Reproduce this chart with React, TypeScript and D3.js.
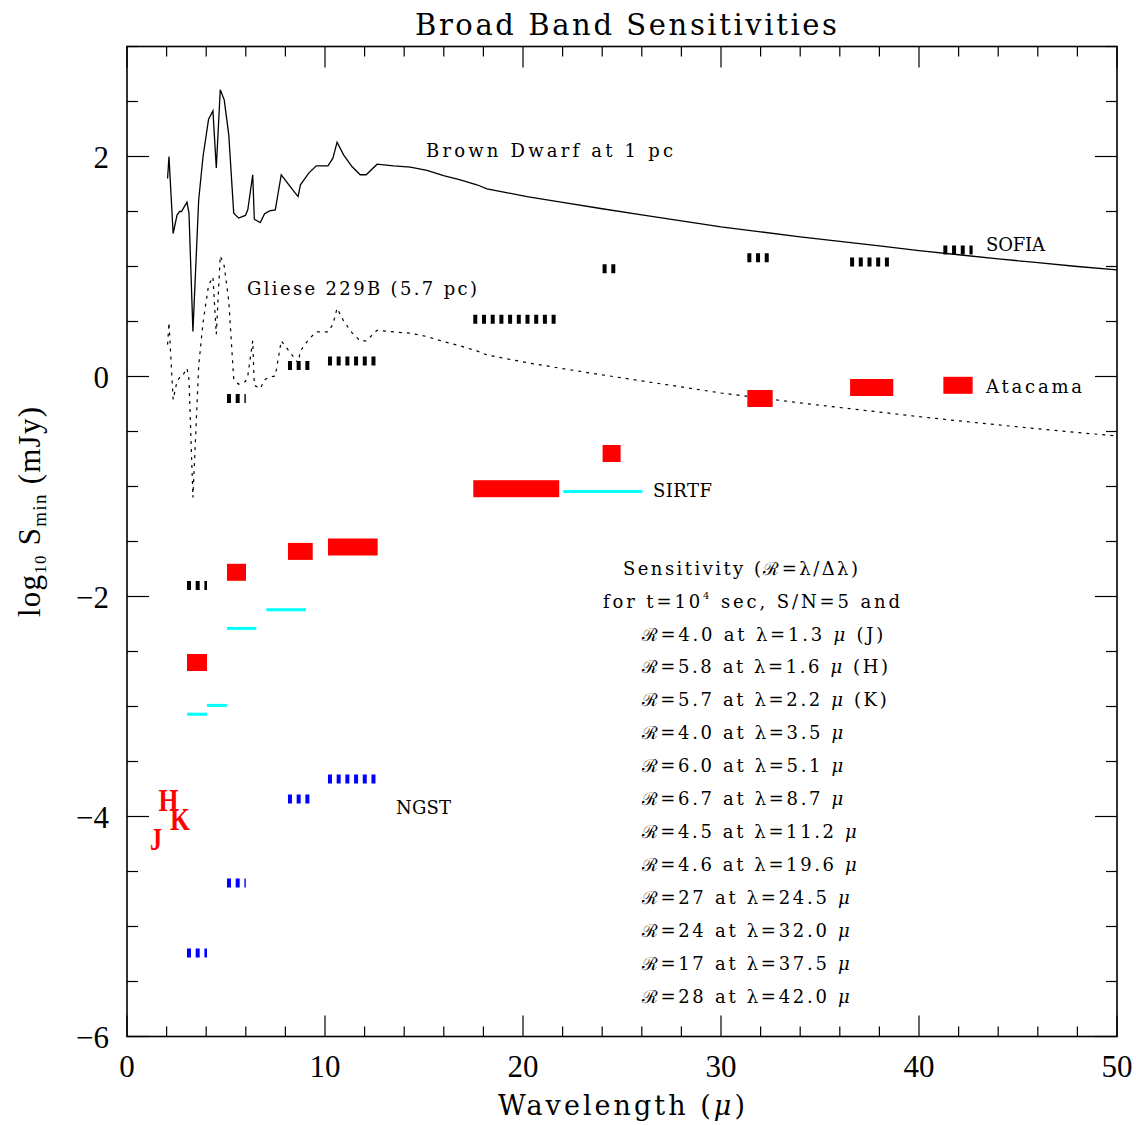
import React from 'react';
import * as d3 from 'd3';

const titleText = 'Broad Band Sensitivities';

// Brown dwarf at 1 pc: [wavelength (micron), log10 flux (mJy)]
const brownDwarf: [number, number][] = [
  [2.05, 1.8], [2.12, 2.0], [2.33, 1.3], [2.53, 1.47], [2.66, 1.5], [2.75, 1.5], [3.03, 1.585],
  [3.13, 1.485], [3.33, 0.41], [3.62, 1.605], [3.84, 2.0], [4.12, 2.34], [4.34, 2.415], [4.51, 1.895],
  [4.71, 2.606], [4.91, 2.515], [5.14, 2.197], [5.39, 1.485], [5.64, 1.44], [5.98, 1.464], [6.1, 1.515],
  [6.35, 1.834], [6.43, 1.43], [6.73, 1.4], [6.95, 1.48], [7.2, 1.506], [7.49, 1.515], [7.79, 1.834],
  [8.37, 1.697], [8.64, 1.636], [8.76, 1.743], [9.18, 1.849], [9.56, 1.915], [9.85, 1.915], [10.15, 1.915],
  [10.4, 1.985], [10.61, 2.13], [10.94, 2.015], [11.36, 1.909], [11.78, 1.834], [12.08, 1.834], [12.63, 1.93],
  [13.47, 1.915], [14.31, 1.904], [15.15, 1.873], [15.99, 1.827], [16.83, 1.788], [17.67, 1.743], [18.18, 1.706],
  [19.03, 1.676], [20.2, 1.636], [22, 1.582], [24, 1.525], [26, 1.47], [28, 1.415], [30, 1.36], [32, 1.315],
  [34, 1.27], [36, 1.228], [38, 1.187], [40, 1.145], [42, 1.107], [44, 1.07], [46, 1.035], [48, 1.0], [50, 0.97],
];

// Gliese 229B (5.7 pc)
const gliese229B: [number, number][] = [
  [2.05, 0.29], [2.12, 0.49], [2.33, -0.21], [2.53, -0.04], [2.66, -0.01], [2.75, -0.01], [3.03, 0.075],
  [3.13, -0.025], [3.33, -1.1], [3.62, 0.095], [3.84, 0.49], [4.12, 0.83], [4.34, 0.905], [4.51, 0.385],
  [4.71, 1.096], [4.91, 1.005], [5.14, 0.687], [5.39, -0.025], [5.64, -0.07], [5.98, -0.046], [6.1, 0.005],
  [6.35, 0.324], [6.43, -0.08], [6.73, -0.11], [6.95, -0.03], [7.2, -0.004], [7.49, 0.005], [7.79, 0.324],
  [8.37, 0.187], [8.64, 0.126], [8.76, 0.233], [9.18, 0.339], [9.56, 0.405], [9.85, 0.405], [10.15, 0.405],
  [10.4, 0.475], [10.61, 0.62], [10.94, 0.505], [11.36, 0.399], [11.78, 0.324], [12.08, 0.324], [12.63, 0.42],
  [13.47, 0.405], [14.31, 0.394], [15.15, 0.363], [15.99, 0.317], [16.83, 0.278], [17.67, 0.233], [18.18, 0.196],
  [19.03, 0.166], [20.2, 0.126], [22, 0.072], [24, 0.015], [26, -0.04], [28, -0.095], [30, -0.15], [32, -0.195],
  [34, -0.24], [36, -0.282], [38, -0.323], [40, -0.365], [42, -0.403], [44, -0.44], [46, -0.475], [48, -0.51], [50, -0.54],
];

// Band sensitivities: [lambda low, lambda high, log10 Smin]
const sofiaBands: [number, number, number][] = [
  [3.03, 4.04, -1.9], [5.05, 6.0, -0.2], [8.13, 9.3, 0.1], [10.15, 12.66, 0.14], [17.49, 21.83, 0.52],
  [24.02, 24.7, 0.98], [31.33, 32.45, 1.08], [36.52, 38.65, 1.04], [41.23, 42.71, 1.15],
];
const atacamaBands: [number, number, number][] = [
  [3.03, 4.04, -2.6], [5.05, 6.01, -1.78], [8.13, 9.38, -1.59], [10.15, 12.66, -1.55], [17.49, 21.83, -1.02],
  [24.02, 24.93, -0.7], [31.33, 32.61, -0.2], [36.52, 38.7, -0.1], [41.23, 42.71, -0.08],
];
const sirtfBands: [number, number, number][] = [
  [3.03, 4.04, -3.07], [4.04, 5.05, -2.99], [5.05, 6.53, -2.29], [7.04, 9.04, -2.12], [22.04, 26.03, -1.045],
];
const ngstBands: [number, number, number][] = [
  [3.03, 4.04, -5.24], [5.05, 6.0, -4.605], [8.13, 9.3, -3.84], [10.15, 12.66, -3.66],
];

// near-IR band letters: [label, lambda, log10 S]
const nirLetters: [string, number, number][] = [
  ['H', 2.1, -3.95], ['K', 2.68, -4.12], ['J', 1.47, -4.3],
];

const xTickLabels = [0, 10, 20, 30, 40, 50];
const yTickLabels = [2, 0, -2, -4, -6];

const legendR = ['4.0', '5.8', '5.7', '4.0', '6.0', '6.7', '4.5', '4.6', '27', '24', '17', '28'];
const legendLambda = ['1.3', '1.6', '2.2', '3.5', '5.1', '8.7', '11.2', '19.6', '24.5', '32.0', '37.5', '42.0'];
const legendSuffix = ['(J)', '(H)', '(K)', '', '', '', '', '', '', '', '', ''];
const legendWidths = [241.6, 246.3, 245, 201.6, 201.6, 201.6, 215, 215, 208, 208, 208, 208];

const FONT = '"Liberation Serif", "DejaVu Serif", serif';
const LFONT = '"DejaVu Serif", "Liberation Serif", serif';

export default function App() {
  const W = 1136, H = 1125;
  const x = d3.scaleLinear().domain([0, 50]).range([127, 1117]);
  const y = d3.scaleLinear().domain([-6, 3]).range([1036.5, 46.5]);
  const line = d3.line<[number, number]>().x(d => x(d[0])).y(d => y(d[1]));

  const xTicks = d3.range(0, 50.001, 2);
  const yTicks = d3.range(-6, 3.001, 0.5);
  const [x0, x1] = x.range();
  const [y0, y1] = y.range();

  const dashedBar = (b: [number, number, number], color: string, i: number, key: string) => (
    <line key={key + i} x1={x(b[0])} x2={x(b[1])} y1={y(b[2])} y2={y(b[2])}
      stroke={color} strokeWidth={9} strokeDasharray="4,4.7" />
  );

  return (
    <svg width={W} height={H} style={{ position: 'absolute', left: 0, top: 0, background: '#fff' }}
      fontFamily={FONT}>
      <rect x={0} y={0} width={W} height={H} fill="#fff" />
      {/* title */}
      <text x={415} y={35} fontSize={29} fontFamily={LFONT} fontWeight={300} textLength={422} lengthAdjust="spacing">{titleText}</text>

      {/* frame */}
      <rect x={x0} y={y1} width={x1 - x0} height={y0 - y1} fill="none" stroke="#000" strokeWidth={1.6} />
      {xTicks.map(t => {
        const major = Math.abs(t % 10) < 1e-6;
        const len = major ? 21 : 10;
        return (
          <g key={'xt' + t} stroke="#000" strokeWidth={1.2}>
            <line x1={x(t)} x2={x(t)} y1={y0} y2={y0 - len} />
            <line x1={x(t)} x2={x(t)} y1={y1} y2={y1 + len} />
          </g>
        );
      })}
      {yTicks.map(t => {
        const major = Math.abs(t % 2) < 1e-6;
        const len = major ? 22 : 11;
        return (
          <g key={'yt' + t} stroke="#000" strokeWidth={1.2}>
            <line x1={x0} x2={x0 + len} y1={y(t)} y2={y(t)} />
            <line x1={x1} x2={x1 - len} y1={y(t)} y2={y(t)} />
          </g>
        );
      })}
      {xTickLabels.map(t => (
        <text key={'xl' + t} x={x(t)} y={1077} fontSize={31} textAnchor="middle">{t}</text>
      ))}
      {yTickLabels.map(t => (
        <text key={'yl' + t} x={109} y={y(t) + 11} fontSize={31} textAnchor="end">
          {t < 0 ? '\u2212' + Math.abs(t) : String(t)}
        </text>
      ))}

      {/* axis titles */}
      <text x={498} y={1115} fontSize={27} fontFamily={LFONT} textLength={247} lengthAdjust="spacing">
        Wavelength (<tspan fontStyle="italic">μ</tspan>)
      </text>
      <text transform="translate(40,617) rotate(-90)" x={0} y={0} fontSize={31} textLength={210} lengthAdjust="spacing">
        log<tspan fontSize={17} dy={6}>10</tspan><tspan dy={-6}> S</tspan><tspan fontSize={19} dy={6}>min</tspan><tspan dy={-6}> (mJy)</tspan>
      </text>

      {/* spectra */}
      <path d={line(brownDwarf) || ''} fill="none" stroke="#000" strokeWidth={1.3} />
      <path d={line(gliese229B) || ''} fill="none" stroke="#000" strokeWidth={1.2} strokeDasharray="3,5" />

      {/* bands */}
      {sofiaBands.map((b, i) => dashedBar(b, '#000', i, 'so'))}
      {ngstBands.map((b, i) => dashedBar(b, '#0000ff', i, 'ng'))}
      {sirtfBands.map((b, i) => (
        <line key={'si' + i} x1={x(b[0])} x2={x(b[1])} y1={y(b[2])} y2={y(b[2])} stroke="#00ffff" strokeWidth={3} />
      ))}
      {atacamaBands.map((b, i) => (
        <rect key={'at' + i} x={x(b[0])} y={y(b[2]) - 8.5} width={x(b[1]) - x(b[0])} height={17} fill="#ff0000" />
      ))}

      {/* labels */}
      <g fontFamily={LFONT} fontSize={18}>
        <text x={426} y={157} textLength={247} lengthAdjust="spacing">Brown Dwarf at 1 pc</text>
        <text x={247} y={295} textLength={230} lengthAdjust="spacing">Gliese 229B (5.7 pc)</text>
        <text x={986} y={251} textLength={59} lengthAdjust="spacing">SOFIA</text>
        <text x={986} y={393} textLength={96} lengthAdjust="spacing">Atacama</text>
        <text x={653} y={497} textLength={59} lengthAdjust="spacing">SIRTF</text>
        <text x={396} y={814} textLength={55} lengthAdjust="spacing">NGST</text>
      </g>

      {nirLetters.map(([s, l, v]) => (
        <text key={'nir' + s} x={x(l) - (s === 'J' ? 6 : 10)} y={y(v)} fontSize={31} fontWeight="bold" fill="#ff0000"
          textLength={s === 'J' ? 12 : 20} lengthAdjust="spacingAndGlyphs">{s}</text>
      ))}

      {/* sensitivity legend */}
      <g fontFamily={LFONT} fontSize={18}>
        <text x={623} y={574.5} textLength={235} lengthAdjust="spacing">
          Sensitivity (ℛ=λ/Δλ)
        </text>
        <text x={603} y={607.5} textLength={297} lengthAdjust="spacing">
          for t=10<tspan fontSize={10} dy={-9}>4</tspan><tspan dy={9}> sec, S/N=5 and</tspan>
        </text>
        {legendR.map((r, i) => (
          <text key={'lg' + i} x={641.7} y={640.5 + i * 32.95}
            textLength={legendWidths[i]} lengthAdjust="spacing">
            {`ℛ=${r} at λ=${legendLambda[i]} `}<tspan fontStyle="italic">μ</tspan>{legendSuffix[i] ? ' ' + legendSuffix[i] : ''}
          </text>
        ))}
      </g>
    </svg>
  );
}
